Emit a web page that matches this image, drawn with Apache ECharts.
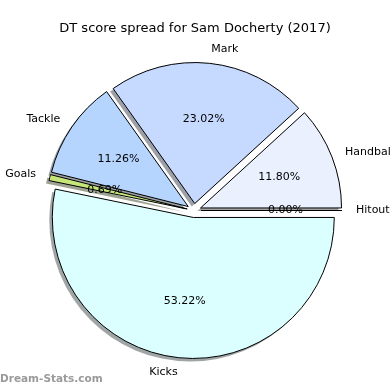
<!DOCTYPE html>
<html><head><meta charset="utf-8">
<script src="https://cdn.jsdelivr.net/npm/echarts@6/dist/echarts.min.js"></script>
<style>html,body{margin:0;padding:0;background:#fff}#c{width:390px;height:390px}</style>
</head><body><div id="c"></div>
<script>
// Data
const categories = ['Handball', 'Mark', 'Tackle', 'Goals', 'Kicks', 'Hitout'];
const percentages = [11.80, 23.02, 11.26, 0.69, 53.22, 0.00];
const titleText = 'DT score spread for Sam Docherty (2017)';
const watermark = 'Dream-Stats.com';

// Styles
const palette = ['#ebf0ff', '#c6d9ff', '#b5d5ff', '#c6e67a', '#dbffff', '#ffffff'];
const FONT = 'DejaVu Sans';
const CENTER = [194, 210.5];
const SHADOW_CENTER = [191, 213.5];
const R = 141;
const EXPLODE = 7;

function shadowOf(hex) {
  const n = parseInt(hex.slice(1), 16);
  const r = Math.round(((n >> 16) & 255) * 0.3);
  const g = Math.round(((n >> 8) & 255) * 0.3);
  const b = Math.round((n & 255) * 0.3);
  return 'rgba(' + r + ',' + g + ',' + b + ',0.5)';
}

const mainData = categories.map((name, i) => ({
  name: name, value: percentages[i], selected: true,
  itemStyle: { color: palette[i] }
}));
const shadowData = categories.map((name, i) => ({
  name: name, value: percentages[i], selected: true,
  itemStyle: { color: shadowOf(palette[i]) }
}));
const labelData = categories.map((name, i) => ({
  name: name, value: percentages[i], selected: true
}));

const common = {
  type: 'pie',
  startAngle: 0,
  clockwise: false,
  selectedMode: 'multiple',
  selectedOffset: EXPLODE,
  avoidLabelOverlap: false,
  silent: true
};

const chart = echarts.init(document.getElementById('c'), null, { renderer: 'canvas' });
chart.setOption({
  animation: false,
  backgroundColor: '#ffffff',
  title: [
    { text: titleText, left: 'center', top: 17,
      textStyle: { fontFamily: FONT, fontSize: 13, fontWeight: 'normal', color: '#000' } },
    { text: watermark, left: 0, top: 374, padding: 0,
      textStyle: { fontFamily: FONT, fontSize: 10.5, fontWeight: 'bold', color: '#9a9a9a' } }
  ],
  series: [
    Object.assign({}, common, {
      center: SHADOW_CENTER,
      radius: [0, R],
      z: 1,
      itemStyle: { borderWidth: 0 },
      label: { show: false },
      labelLine: { show: false },
      data: shadowData
    }),
    Object.assign({}, common, {
      center: CENTER,
      radius: [0, R],
      z: 2,
      itemStyle: { borderColor: '#000', borderWidth: 1 },
      label: {
        show: true, position: 'outside', formatter: '{b}',
        fontFamily: FONT, fontSize: 11, color: '#000', distanceToLabelLine: 0
      },
      labelLine: { show: false, length: 14, length2: 0 },
      data: mainData
    }),
    Object.assign({}, common, {
      center: CENTER,
      radius: [22, R],
      z: 3,
      itemStyle: { color: 'rgba(0,0,0,0)', borderWidth: 0 },
      label: {
        show: true, position: 'inside',
        formatter: p => p.value.toFixed(2) + '%',
        fontFamily: FONT, fontSize: 11, color: '#000'
      },
      labelLine: { show: false },
      data: labelData
    })
  ]
});
</script></body></html>
